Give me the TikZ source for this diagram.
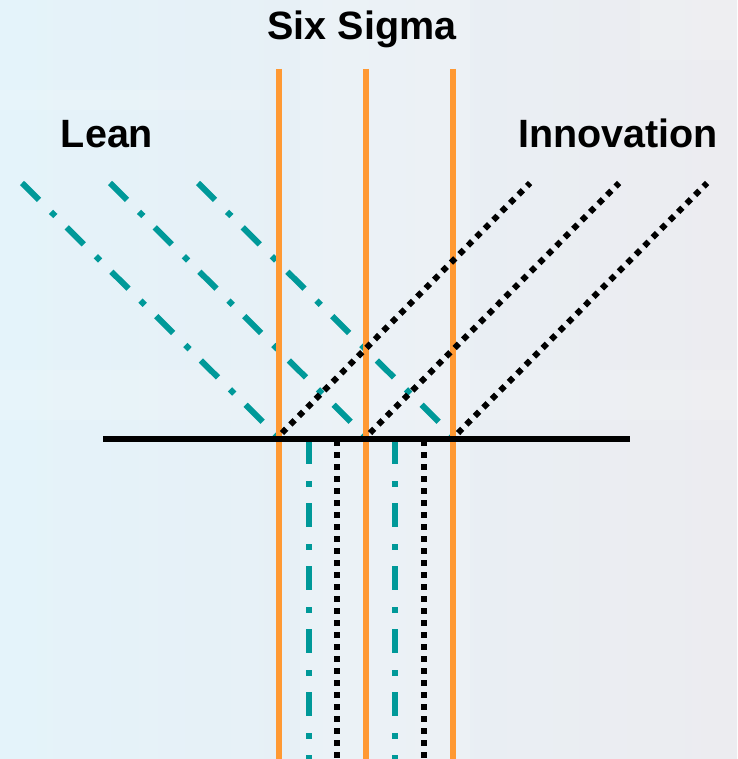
\documentclass[tikz,border=0pt]{standalone}
\usepackage{fontspec}
\setmainfont{Liberation Sans}
\definecolor{orangeC}{RGB}{255,153,51}
\definecolor{tealC}{RGB}{0,153,153}
\definecolor{bgL}{RGB}{228,243,250}
\definecolor{bgR}{RGB}{236,236,240}
\begin{document}
\begin{tikzpicture}[x=1pt,y=-1pt,
  sixsig/.style={draw=orangeC, line width=6pt},
  leanline/.style={draw=tealC, line width=6pt, dash pattern=on 24pt off 17pt on 6pt off 16pt},
  innoline/.style={draw=black, line width=6pt, dash pattern=on 6pt off 6pt},
  baseline/.style={draw=black, line width=6pt},
  label/.style={font=\fontsize{39.5}{47}\selectfont\bfseries, text=black, inner sep=0pt, anchor=base}
]
% background
\useasboundingbox (0,0) rectangle (737,759);
\fill[left color=bgL, right color=bgR] (0,0) rectangle (737,759);
\fill[white, opacity=0.15] (300,0) rectangle (470,759);
\fill[white, opacity=0.12] (0,370) rectangle (737,420);
\fill[white, opacity=0.12] (640,0) rectangle (737,60);
\fill[white, opacity=0.12] (0,90) rectangle (260,110);

% labels
\node[label] (six) at (362,40) {Six Sigma};
\node[label] (lean) at (107,148) {Lean};
\node[label] (inno) at (618,148) {Innovation};

% coordinates
\coordinate (L1) at (22,183);
\coordinate (L2) at (110,183);
\coordinate (L3) at (198,183);
\coordinate (M1) at (277,436);
\coordinate (M2) at (365,436);
\coordinate (M3) at (453,436);
\coordinate (I1) at (530,183);
\coordinate (I2) at (619,183);
\coordinate (I3) at (707,183);
\coordinate (S1t) at (279,69);
\coordinate (S1b) at (279,759);
\coordinate (S2t) at (366,69);
\coordinate (S2b) at (366,759);
\coordinate (S3t) at (453,69);
\coordinate (S3b) at (453,759);
\coordinate (T1t) at (308.5,440);
\coordinate (T1b) at (308.5,759);
\coordinate (T2t) at (395,440);
\coordinate (T2b) at (395,759);
\coordinate (D1t) at (337,440);
\coordinate (D1b) at (337,759);
\coordinate (D2t) at (424,440);
\coordinate (D2b) at (424,759);
\coordinate (Hl) at (103,439);
\coordinate (Hr) at (630,439);

% lean (teal dash-dot)
\draw[leanline] (L1) -- (M1);
\draw[leanline] (L2) -- (M2);
\draw[leanline] (L3) -- (M3);
\draw[leanline] (T1t) -- (T1b);
\draw[leanline] (T2t) -- (T2b);

% six sigma (orange)
\draw[sixsig] (S1t) -- (S1b);
\draw[sixsig] (S2t) -- (S2b);
\draw[sixsig] (S3t) -- (S3b);

% innovation (black dotted)
\draw[innoline] ([shift={(5,-3)}]M1) -- (I1);
\draw[innoline] ([shift={(5,-3)}]M2) -- (I2);
\draw[innoline] ([shift={(5,-3)}]M3) -- (I3);
\draw[innoline] (D1t) -- (D1b);
\draw[innoline] (D2t) -- (D2b);

% baseline
\draw[baseline] (Hl) -- (Hr);
\end{tikzpicture}
\end{document}
